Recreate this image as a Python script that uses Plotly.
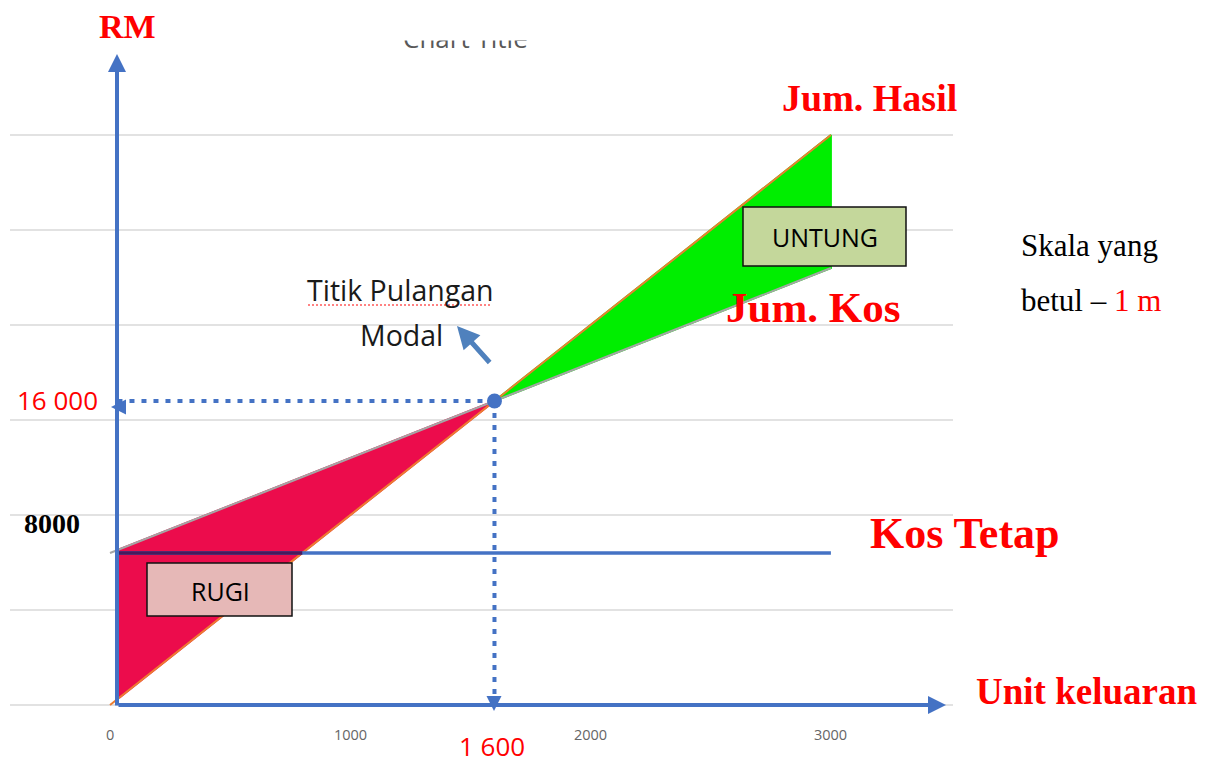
import numpy as np
import plotly.graph_objects as go

# ---------------- data ----------------
units = [0, 1600, 3000]                 # unit keluaran
revenue = [0, 16000, 30000]             # Jum. Hasil (RM)
total_cost = [8000, 16000, 23000]       # Jum. Kos (RM)
fixed_units = [0, 3000]
fixed_cost = [8000, 8000]               # Kos Tetap (RM)
break_even = (1600, 16000)              # Titik Pulangan Modal
grid_values = [0, 5000, 10000, 15000, 20000, 25000, 30000]
x_ticks = [0, 1000, 2000, 3000]
x_tick_labels = ["0", "1000", "2000", "3000"]

# ---------------- geometry ----------------
OFF = 8                      # page body margin in the browser
W, H = 1211 - OFF, 763 - OFF
X0PX, XS = 110 - OFF, 0.2403    # figure pixel of x=0, px per unit
Y0PX, YS = 705 - OFF, 0.019     # figure pixel of y=0, px per RM
xr = [-X0PX / XS, (W - X0PX) / XS]
yr = [-(H - Y0PX) / YS, Y0PX / YS]


def dx(p):
    """reference pixel -> x data"""
    return (p - OFF - X0PX) / XS


def dy(p):
    """reference pixel -> y data"""
    return (Y0PX - (p - OFF)) / YS


def P(xp, yp):
    """reference pixel -> paper coords"""
    return (xp - OFF) / W, 1 - (yp - OFF) / H


BLUE = "#4472c4"
RED = "#ff0000"
SERIF = "Liberation Serif"
SANS = "Open Sans"

fig = go.Figure()

# loss area (RUGI) – shaded from the drawn y-axis to the break-even point
xa = dx(119)
rev_a = float(np.interp(xa, units, revenue))
cost_a = float(np.interp(xa, units, total_cost))
fig.add_trace(go.Scatter(
    x=[xa, xa, break_even[0], xa],
    y=[rev_a, cost_a, break_even[1], rev_a],
    fill="toself", fillcolor="#ec0c4c", line=dict(color="#ec0c4c", width=2),
    mode="lines", hoverinfo="skip"))
# profit area (UNTUNG)
fig.add_trace(go.Scatter(
    x=[units[1], units[2], units[2], units[1]],
    y=[revenue[1], revenue[2], total_cost[2], revenue[1]],
    fill="toself", fillcolor="#00ee00", line=dict(color="#00ee00", width=2),
    mode="lines", hoverinfo="skip"))

# total cost, revenue
fig.add_trace(go.Scatter(x=units, y=total_cost, mode="lines",
                         line=dict(color="#a5a5a5", width=2), hoverinfo="skip"))
fig.add_trace(go.Scatter(x=units, y=revenue, mode="lines",
                         line=dict(color="#ed7d31", width=2), hoverinfo="skip"))
# fixed cost (dark where it crosses the red shading)
x_cross = float(np.interp(fixed_cost[0], revenue, units))
fig.add_trace(go.Scatter(x=[xa, fixed_units[1]], y=fixed_cost, mode="lines",
                         line=dict(color=BLUE, width=3.5), hoverinfo="skip"))
fig.add_trace(go.Scatter(x=[xa, x_cross], y=fixed_cost, mode="lines",
                         line=dict(color="#4a1a5c", width=3.5), hoverinfo="skip"))

# dotted guide lines to break-even
fig.add_trace(go.Scatter(x=[break_even[0], dx(118)], y=[break_even[1], break_even[1]],
                         mode="lines", line=dict(color=BLUE, width=4, dash="5px,7px"),
                         hoverinfo="skip"))
fig.add_trace(go.Scatter(x=[break_even[0], break_even[0]], y=[break_even[1], 0],
                         mode="lines", line=dict(color=BLUE, width=4, dash="5px,7px"),
                         hoverinfo="skip"))
fig.add_trace(go.Scatter(x=[break_even[0]], y=[break_even[1]], mode="markers",
                         marker=dict(color=BLUE, size=15), hoverinfo="skip"))

shapes = []
# gridlines
for g in grid_values:
    shapes.append(dict(type="line", xref="x", yref="y", x0=dx(10), x1=dx(953),
                       y0=g, y1=g, line=dict(color="#d9d9d9", width=1.5), layer="below"))
# boxes
x0, y0 = P(743, 207); x1, y1 = P(906, 266)
shapes.append(dict(type="rect", xref="paper", yref="paper", x0=x0, y0=y0, x1=x1, y1=y1,
                   fillcolor="#c4d79b", line=dict(color="#111111", width=1.5), layer="above"))
x0, y0 = P(147, 563); x1, y1 = P(292, 616)
shapes.append(dict(type="rect", xref="paper", yref="paper", x0=x0, y0=y0, x1=x1, y1=y1,
                   fillcolor="#e6b8b7", line=dict(color="#111111", width=1.5), layer="above"))
# wavy-ish underline under Titik Pulangan
x0, y0 = P(308, 305); x1, y1 = P(492, 305)
shapes.append(dict(type="line", xref="paper", yref="paper", x0=x0, y0=y0, x1=x1, y1=y1,
                   line=dict(color="#ff5a5a", width=1.5, dash="2px,2px"), layer="above"))

ann = []


def text(t, xp, yp, size, color="black", family=SERIF, bold=False, xanchor="center"):
    x, y = P(xp, yp)
    if bold:
        t = "<b>" + t + "</b>"
    ann.append(dict(text=t, x=x, y=y, xref="paper", yref="paper", showarrow=False,
                    xanchor=xanchor, yanchor="middle",
                    font=dict(size=size, color=color, family=family)))


def arrow(tip, tail, width, color, size=1.0, head=2):
    x, y = P(*tip)
    ann.append(dict(text="", x=x, y=y, xref="paper", yref="paper", showarrow=True,
                    ax=tail[0] - tip[0], ay=tail[1] - tip[1], axref="pixel", ayref="pixel",
                    arrowhead=head, arrowwidth=width, arrowcolor=color, arrowsize=size,
                    standoff=0, startstandoff=0))


# "Chart Title" partially hidden
text("Chart Title", 466, 38, 26, "#595959", SANS)
x, y = P(466, 22)
ann.append(dict(text="", x=x, y=y, xref="paper", yref="paper", showarrow=False,
                width=240, height=34, bgcolor="white", xanchor="center", yanchor="middle"))

# axes arrows
arrow((117, 54), (117, 707), 4, BLUE, 0.9)
arrow((946, 705), (117, 705), 4, BLUE, 0.9)
# dotted-line arrowheads
arrow((111, 407), (126, 407), 3, BLUE, 1.0)
arrow((494, 711), (494, 696), 3, BLUE, 1.0)
# small arrow to label
arrow((457, 326), (491, 364), 5, "#4f81bd", 0.9)

# labels
text("RM", 127, 27, 34, RED, bold=True)
text("Jum. Hasil", 869, 98, 38, RED, bold=True)
text("Jum. Kos", 813, 307, 43, RED, bold=True)
text("Kos Tetap", 965, 533, 44, RED, bold=True)
text("Unit keluaran", 1086, 691, 37, RED, bold=True)
text("Skala yang", 1019, 246, 31, "black", xanchor="left")
text("betul – <span style='color:#ff0000'>1 m</span>", 1019, 300, 31, "black", xanchor="left")
text("8000", 52, 523, 28, "black", bold=True)
text("16 000", 57, 400, 26, RED, SANS)
text("1 600", 492, 746, 26, RED, SANS)
text("Titik Pulangan", 400, 290, 28.5, "#1a1a1a", SANS)
text("Modal", 401, 335, 28.5, "#1a1a1a", SANS)
text("UNTUNG", 825, 237, 25, "black", SANS)
text("RUGI", 220, 591, 25, "black", SANS)

# tick labels (x axis)
for v, lab in zip(x_ticks, x_tick_labels):
    ann.append(dict(text=lab, x=v, y=dy(734), xref="x", yref="y",
                    showarrow=False, xanchor="center", yanchor="middle",
                    font=dict(size=14.5, color="#666666", family=SANS)))

fig.update_layout(
    width=W, height=H, margin=dict(l=0, r=0, t=0, b=0),
    paper_bgcolor="white", plot_bgcolor="white", showlegend=False,
    xaxis=dict(range=xr, visible=False, fixedrange=True),
    yaxis=dict(range=yr, visible=False, fixedrange=True),
    shapes=shapes, annotations=ann,
)

fig.write_html("out.html", config={"displayModeBar": False})
